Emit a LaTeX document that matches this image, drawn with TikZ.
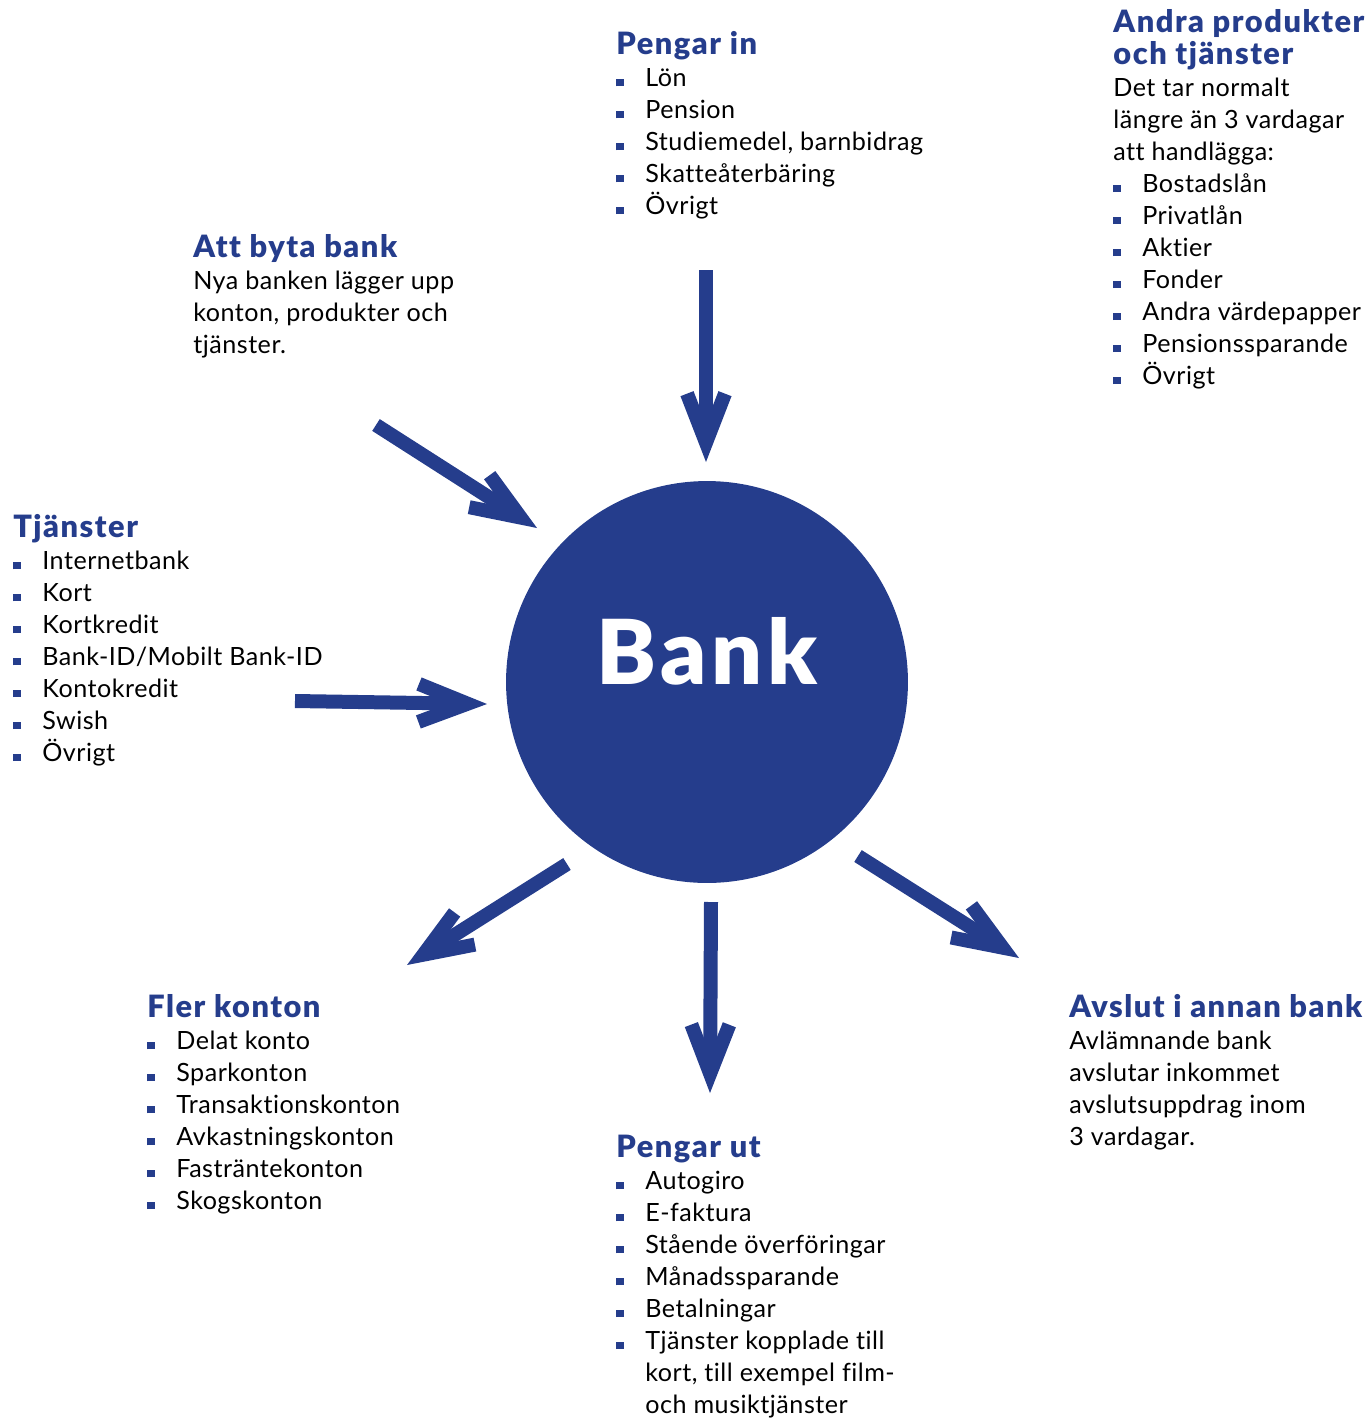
\documentclass[tikz,border=0pt]{standalone}
\usepackage{fontspec}
\setmainfont{Lato}[LetterSpace=2, Ligatures=NoCommon]
\newfontfamily\headfont{Lato Black}[LetterSpace=5, Ligatures=NoCommon]
\usepackage{xcolor}
\usetikzlibrary{positioning,arrows.meta}

\definecolor{bankblue}{RGB}{37,61,140}
\newcommand{\hd}[1]{{\rule{0pt}{0.5cm}\headfont\fontsize{17.5}{18.2}\selectfont\color{bankblue}#1}}
\newcommand{\itm}{\makebox[0.58cm][l]{\textcolor{bankblue}{\rule{0.15cm}{0.15cm}}}}
\newcommand{\ind}{\hspace*{0.58cm}}

\tikzset{
    block/.style={anchor=north west, inner sep=0pt, align=left, font=\fontsize{14.3}{18.2}\selectfont},
    flow/.style={bankblue, line width=0.28cm, -{Straight Barb[length=0.98cm,width=0.76cm,sharp]}},
}

\begin{document}
\begin{tikzpicture}[x=0.02cm, y=-0.02cm]
    \useasboundingbox (0,0) rectangle (1368,1421);

    \node[circle, fill=bankblue, minimum size=8.04cm, inner sep=0pt, text=white,
          text depth=1.24cm, font=\headfont\fontsize{51}{52}\selectfont] (bank) at (707,682) {Bank};

    \node[block] (in) at (616,29) {\hd{Pengar in}\\
        \itm Lön\\ \itm Pension\\ \itm Studiemedel, barnbidrag\\ \itm Skatteåterbäring\\ \itm Övrigt};

    \node[block] (andra) at (1113,7) {\hd{Andra produkter}\\ \hd{och tjänster}\\
        Det tar normalt\\ längre än 3 vardagar\\ att handlägga:\\
        \itm Bostadslån\\ \itm Privatlån\\ \itm Aktier\\ \itm Fonder\\
        \itm Andra värdepapper\\ \itm Pensionssparande\\ \itm Övrigt};

    \node[block] (byta) at (193,232) {\hd{Att byta bank}\\
        Nya banken lägger upp\\ konton, produkter och\\ tjänster.};

    \node[block] (tj) at (13,512) {\hd{Tjänster}\\
        \itm Internetbank\\ \itm Kort\\ \itm Kortkredit\\ \itm Bank-ID/Mobilt Bank-ID\\
        \itm Kontokredit\\ \itm Swish\\ \itm Övrigt};

    \node[block] (fler) at (147,992) {\hd{Fler konton}\\
        \itm Delat konto\\ \itm Sparkonton\\ \itm Transaktionskonton\\
        \itm Avkastningskonton\\ \itm Fasträntekonton\\ \itm Skogskonton};

    \node[block] (ut) at (616,1132) {\hd{Pengar ut}\\
        \itm Autogiro\\ \itm E-faktura\\ \itm Stående överföringar\\ \itm Månadssparande\\
        \itm Betalningar\\ \itm Tjänster kopplade till\\ \ind kort, till exempel film-\\ \ind och musiktjänster};

    \node[block] (avslut) at (1069,992) {\hd{Avslut i annan bank}\\
        Avlämnande bank\\ avslutar inkommet\\ avslutsuppdrag inom\\ 3 vardagar.};

    % arrow ends
    \coordinate (in-a) at (706,270);   \coordinate (in-b) at (706,462);
    \coordinate (byta-a) at (376,425); \coordinate (byta-b) at (537,528);
    \coordinate (tj-a) at (295,701);   \coordinate (tj-b) at (487,704);
    \coordinate (fler-a) at (567,864); \coordinate (fler-b) at (407,965);
    \coordinate (ut-a) at (711,902);   \coordinate (ut-b) at (710,1093);
    \coordinate (av-a) at (858,856);   \coordinate (av-b) at (1019,958);

    \draw[flow] (in-a) -- (in-b);
    \draw[flow] (byta-a) -- (byta-b);
    \draw[flow] (tj-a) -- (tj-b);
    \draw[flow] (fler-a) -- (fler-b);
    \draw[flow] (ut-a) -- (ut-b);
    \draw[flow] (av-a) -- (av-b);
\end{tikzpicture}
\end{document}
